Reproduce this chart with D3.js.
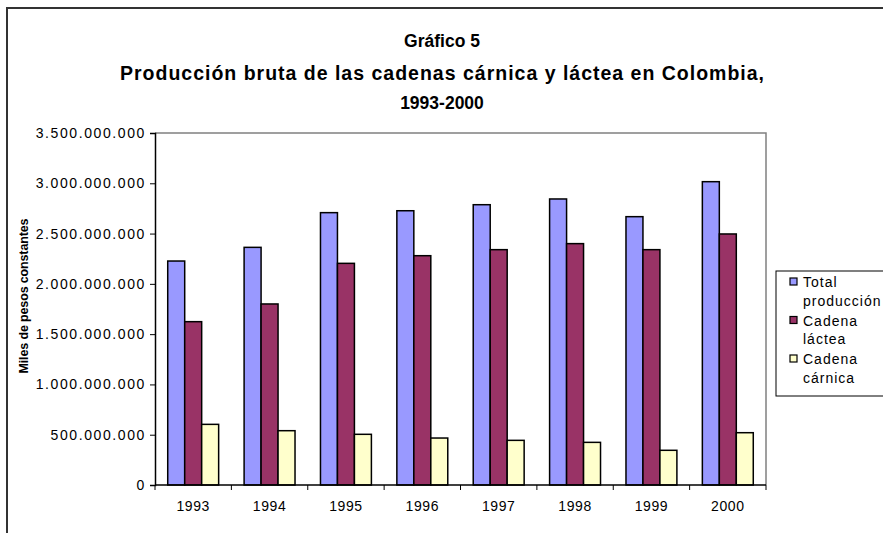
<!DOCTYPE html>
<html><head><meta charset="utf-8">
<script src="https://cdn.jsdelivr.net/npm/d3@7"></script>
<style>body{margin:0;background:#fff;}svg{display:block;font-family:Arial,"Liberation Sans",sans-serif;}</style>
</head><body>
<svg id="c" width="883" height="533"></svg>
<script>
const years = ["1993","1994","1995","1996","1997","1998","1999","2000"];
const seriesNames = ["Total producción","Cadena láctea","Cadena cárnica"];
const totalProduccion = [2227000000,2363000000,2708000000,2727000000,2787000000,2844000000,2668000000,3016000000];
const cadenaLactea = [1624000000,1800000000,2204000000,2280000000,2340000000,2400000000,2340000000,2496000000];
const cadenaCarnica = [603000000,540000000,504000000,467000000,444000000,424000000,345000000,520000000];
const yTicks = [0,500000000,1000000000,1500000000,2000000000,2500000000,3000000000,3500000000];
const colors = ["#9999FF","#993366","#FFFFCC"];
const series = [totalProduccion, cadenaLactea, cadenaCarnica];

const svg = d3.select("#c");
// outer frame
svg.append("rect").attr("x",7).attr("y",8).attr("width",900).attr("height",600)
  .attr("fill","none").attr("stroke","#333").attr("stroke-width",2);

const L=155, R=766, T=133, B=485;
const x = d3.scaleBand().domain(years).range([L,R]).paddingInner(0).paddingOuter(0);
const gapFrac = 1.5/4.5;
const bw = x.bandwidth()/4.5;
const y = d3.scaleLinear().domain([0,3500000000]).range([B,T]);

// plot border (top & right gray)
svg.append("path").attr("d",`M${L},${T}H${R}V${B}`).attr("fill","none").attr("stroke","#808080").attr("stroke-width",1.5);

// bars
series.forEach((vals,si)=>{
  svg.append("g").selectAll("rect").data(vals).join("rect")
    .attr("x",(d,i)=>x(years[i]) + x.bandwidth()*gapFrac/2 + si*bw)
    .attr("y",d=>y(d))
    .attr("width",bw)
    .attr("height",d=>B-y(d))
    .attr("fill",colors[si]).attr("stroke","#000").attr("stroke-width",1.5);
});

// y axis
const fmt = v => v===0 ? "0" : d3.format(",")(v).replace(/,/g,".");
const ya = d3.axisLeft(y).tickValues(yTicks).tickFormat(fmt).tickSize(5).tickPadding(4);
const gy = svg.append("g").attr("transform",`translate(${L},0)`).call(ya);
gy.select(".domain").attr("stroke","#000").attr("stroke-width",1.5);
gy.selectAll(".tick line").attr("stroke","#000");
gy.selectAll("text").attr("font-size",14).attr("letter-spacing","1.6").attr("fill","#000")
  .style("font-family","Arial, 'Liberation Sans', sans-serif");

// x axis
const gx = svg.append("g").attr("transform",`translate(0,${B})`);
gx.append("line").attr("x1",L).attr("x2",R).attr("y1",0).attr("y2",0).attr("stroke","#000").attr("stroke-width",1.5);
const bounds = years.map(d=>x(d)).concat([R]);
gx.selectAll("line.t").data(bounds).join("line").attr("class","t")
  .attr("x1",d=>d).attr("x2",d=>d).attr("y1",0).attr("y2",5).attr("stroke","#000");
gx.selectAll("text").data(years).join("text")
  .attr("x",d=>x(d)+x.bandwidth()/2).attr("y",26).attr("text-anchor","middle")
  .attr("font-size",14).attr("letter-spacing","0.6").text(d=>d);

// y title
svg.append("text").attr("transform","translate(28,296) rotate(-90)").attr("text-anchor","middle")
  .attr("font-size",12.5).attr("font-weight","bold").attr("textLength",155).attr("lengthAdjust","spacing")
  .text("Miles de pesos constantes");

// title
const titles = ["Gráfico 5","Producción bruta de las cadenas cárnica y láctea en Colombia,","1993-2000"];
const ty = [47,80,109];
titles.forEach((t,i)=>{
  const tx = svg.append("text").attr("x",442).attr("y",ty[i]).attr("text-anchor","middle")
    .attr("font-size",i===1?19.5:17.5).attr("font-weight","bold").text(t);
  if(i===1) tx.attr("textLength",644).attr("lengthAdjust","spacing");
});

// legend
svg.append("rect").attr("x",776).attr("y",271).attr("width",120).attr("height",125)
  .attr("fill","#fff").attr("stroke","#000").attr("stroke-width",1);
const legLines = [["Total","producción"],["Cadena","láctea"],["Cadena","cárnica"]];
legLines.forEach((ls,i)=>{
  const y0 = 282 + i*38.5;
  svg.append("rect").attr("x",790).attr("y",y0-4).attr("width",7).attr("height",7)
    .attr("fill",colors[i]).attr("stroke","#000").attr("stroke-width",1.2);
  ls.forEach((s,j)=>svg.append("text").attr("x",803).attr("y",y0+5+j*18.5)
    .attr("font-size",14).attr("letter-spacing","1").text(s));
});
</script>
</body></html>
